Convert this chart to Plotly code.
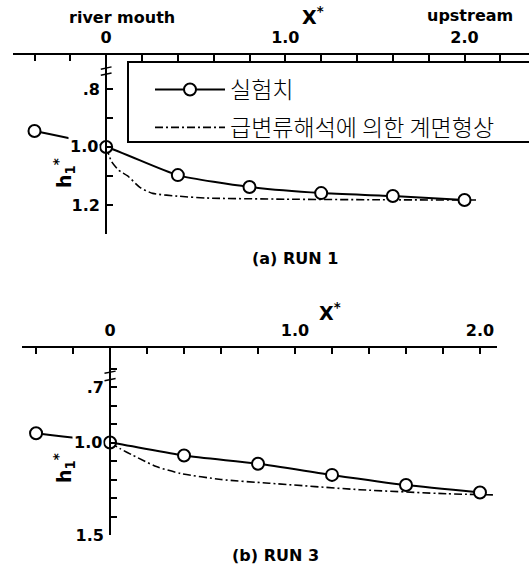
import plotly.graph_objects as go

W, H = 529, 570

# ---------------- data ----------------
# Panel (a) RUN 1
a_obs_x = [-0.4, 0.0, 0.4, 0.8, 1.2, 1.6, 2.0]
a_obs_h = [0.945, 1.0, 1.097, 1.138, 1.159, 1.169, 1.183]
a_calc_x = [0.0, 0.03, 0.07, 0.12, 0.19, 0.26, 0.41, 0.56, 1.0, 1.5, 2.08]
a_calc_h = [1.0, 1.05, 1.08, 1.10, 1.14, 1.16, 1.17, 1.176, 1.18, 1.182, 1.183]

# Panel (b) RUN 3
b_obs_x = [-0.4, 0.0, 0.4, 0.8, 1.2, 1.6, 2.0]
b_obs_h = [0.95, 1.0, 1.07, 1.115, 1.175, 1.23, 1.27]
b_calc_x = [0.0, 0.054, 0.125, 0.25, 0.38, 0.6, 0.86, 1.35, 1.82, 2.07]
b_calc_h = [1.0, 1.033, 1.07, 1.13, 1.167, 1.20, 1.22, 1.255, 1.277, 1.283]

x_ticks_a = [-0.4, -0.2, 0.0, 0.2, 0.4, 0.6, 0.8, 1.0, 1.2, 1.4, 1.6, 1.8, 2.0, 2.2]
x_ticks_b = [-0.4, -0.2, 0.0, 0.2, 0.4, 0.6, 0.8, 1.0, 1.2, 1.4, 1.6, 1.8, 2.0]
x_labels = {0.0: "0", 1.0: "1.0", 2.0: "2.0"}
y_ticks_a = [0.8, 0.9, 1.0, 1.1, 1.2, 1.3]
y_labels_a = {0.8: ".8", 1.2: "1.2"}
y_ticks_b = [0.6, 0.7, 0.8, 0.9, 1.0, 1.1, 1.2, 1.3, 1.4, 1.5]
y_labels_b = {0.7: ".7", 1.5: "1.5"}

name_obs = "실험치"
name_calc = "급변류해석에 의한 계면형상"

# ---------------- layout geometry ----------------
xr_a = [-0.52, 2.36]
xd_a = [13 / W, 1.0]
yr_a = [1.3, 0.683]
yd_a = [1 - 234 / H, 1 - 55 / H]

xr_b = [-0.476, 2.092]
xd_b = [22 / W, 497 / W]
yr_b = [1.5, 0.489]
yd_b = [1 - 535 / H, 1 - 348 / H]


def pos_of_zero(xr, xd):
    return xd[0] + (0 - xr[0]) / (xr[1] - xr[0]) * (xd[1] - xd[0])


FONT = "DejaVu Sans"
tickfont = dict(family=FONT, size=16, color="black", weight=700)

fig = go.Figure()

obs_style = dict(mode="lines+markers",
                 line=dict(color="black", width=2, shape="spline", smoothing=0.6),
                 marker=dict(symbol="circle", size=12, color="white",
                             line=dict(color="black", width=2)))
calc_style = dict(mode="lines",
                  line=dict(color="black", width=1.6, dash="8px,3px,2px,3px",
                            shape="spline", smoothing=0.6))

fig.add_trace(go.Scatter(x=a_calc_x, y=a_calc_h, name=name_calc, xaxis="x", yaxis="y",
                         showlegend=True, legendrank=2, legendgroup="calc", **calc_style))
fig.add_trace(go.Scatter(x=a_obs_x, y=a_obs_h, name=name_obs, xaxis="x", yaxis="y",
                         showlegend=True, legendrank=1, legendgroup="obs", **obs_style))
fig.add_trace(go.Scatter(x=b_calc_x, y=b_calc_h, name=name_calc, xaxis="x2", yaxis="y2",
                         showlegend=False, legendgroup="calc", **calc_style))
fig.add_trace(go.Scatter(x=b_obs_x, y=b_obs_h, name=name_obs, xaxis="x2", yaxis="y2",
                         showlegend=False, legendgroup="obs", **obs_style))

common_x = dict(showline=True, linecolor="black", linewidth=2, ticks="inside",
                ticklen=6, tickwidth=2, tickcolor="black", showgrid=False,
                zeroline=False, side="top", tickfont=tickfont, ticklabelstandoff=4)
common_y = dict(showline=True, linecolor="black", linewidth=2, ticks="inside",
                ticklen=6, tickwidth=2, tickcolor="black", showgrid=False,
                zeroline=False, anchor="free", tickfont=tickfont, ticklabelstandoff=2)

fig.update_layout(
    width=W, height=H,
    margin=dict(l=0, r=0, t=0, b=0, autoexpand=False),
    paper_bgcolor="white", plot_bgcolor="white",
    xaxis=dict(domain=xd_a, range=xr_a, anchor="y",
               tickvals=x_ticks_a, ticktext=[x_labels.get(round(v, 1), "") for v in x_ticks_a],
               **common_x),
    yaxis=dict(domain=yd_a, range=yr_a, position=pos_of_zero(xr_a, xd_a),
               tickvals=y_ticks_a, ticktext=[y_labels_a.get(round(v, 1), "") for v in y_ticks_a],
               **common_y),
    xaxis2=dict(domain=xd_b, range=xr_b, anchor="y2",
                tickvals=x_ticks_b, ticktext=[x_labels.get(round(v, 1), "") for v in x_ticks_b],
                **common_x),
    yaxis2=dict(domain=yd_b, range=yr_b, position=pos_of_zero(xr_b, xd_b),
                tickvals=y_ticks_b, ticktext=[y_labels_b.get(round(v, 1), "") for v in y_ticks_b],
                **common_y),
    legend=dict(x=150 / W, y=1 - 68 / H, xanchor="left", yanchor="top",
                bgcolor="rgba(0,0,0,0)", borderwidth=0, itemwidth=70,
                font=dict(family="Noto Sans CJK KR", size=23, color="black", weight=300),
                traceorder="grouped", tracegroupgap=5),
    showlegend=True,
)

# legend frame (extends past the right edge, as in the original)
fig.add_shape(type="rect", xref="paper", yref="paper",
              x0=128 / W, x1=1.05, y0=1 - 142 / H, y1=1 - 62 / H,
              line=dict(color="black", width=2), fillcolor="rgba(0,0,0,0)", layer="above")

# axis break marks
for yv in (0.728, 0.749):
    fig.add_shape(type="line", xref="x", yref="y", x0=-0.03, x1=0.03, y0=yv + 0.004, y1=yv - 0.004,
                  line=dict(color="black", width=1.5))
for yv in (0.62, 0.66):
    fig.add_shape(type="line", xref="x2", yref="y2", x0=-0.03, x1=0.03, y0=yv + 0.006, y1=yv - 0.006,
                  line=dict(color="black", width=1.5))

labfont = dict(family=FONT, size=16, color="black", weight=700)
bigfont = dict(family=FONT, size=19, color="black", weight=700)
ann = [
    dict(text="river mouth", x=122 / W, y=1 - 18 / H, font=labfont),
    dict(text="X<sup>*</sup>", x=313 / W, y=1 - 16 / H, font=bigfont),
    dict(text="upstream", x=470 / W, y=1 - 16 / H, font=labfont),
    dict(text="X<sup>*</sup>", x=330 / W, y=1 - 312 / H, font=bigfont),
    dict(text="(a) RUN 1", x=295 / W, y=1 - 258 / H, font=labfont),
    dict(text="(b) RUN 3", x=275 / W, y=1 - 555 / H, font=labfont),
    dict(text="h<sub>1</sub><sup>*</sup>", x=64 / W, y=1 - 173 / H, textangle=-90, font=bigfont),
    dict(text="h<sub>1</sub><sup>*</sup>", x=64 / W, y=1 - 468 / H, textangle=-90, font=bigfont),
]
for a in ann:
    fig.add_annotation(showarrow=False, xref="paper", yref="paper",
                       xanchor="center", yanchor="middle", **a)

# "1.0" labels with white background so the upstream line passes behind them
fig.add_annotation(text="1.0", x=0, y=1.0, xref="x", yref="y", xanchor="right", yanchor="middle",
                   xshift=-6, showarrow=False, font=tickfont, bgcolor="white", borderpad=1)
fig.add_annotation(text="1.0", x=0, y=1.0, xref="x2", yref="y2", xanchor="right", yanchor="middle",
                   xshift=-6, showarrow=False, font=tickfont, bgcolor="white", borderpad=1)

fig.write_html("out.html")
